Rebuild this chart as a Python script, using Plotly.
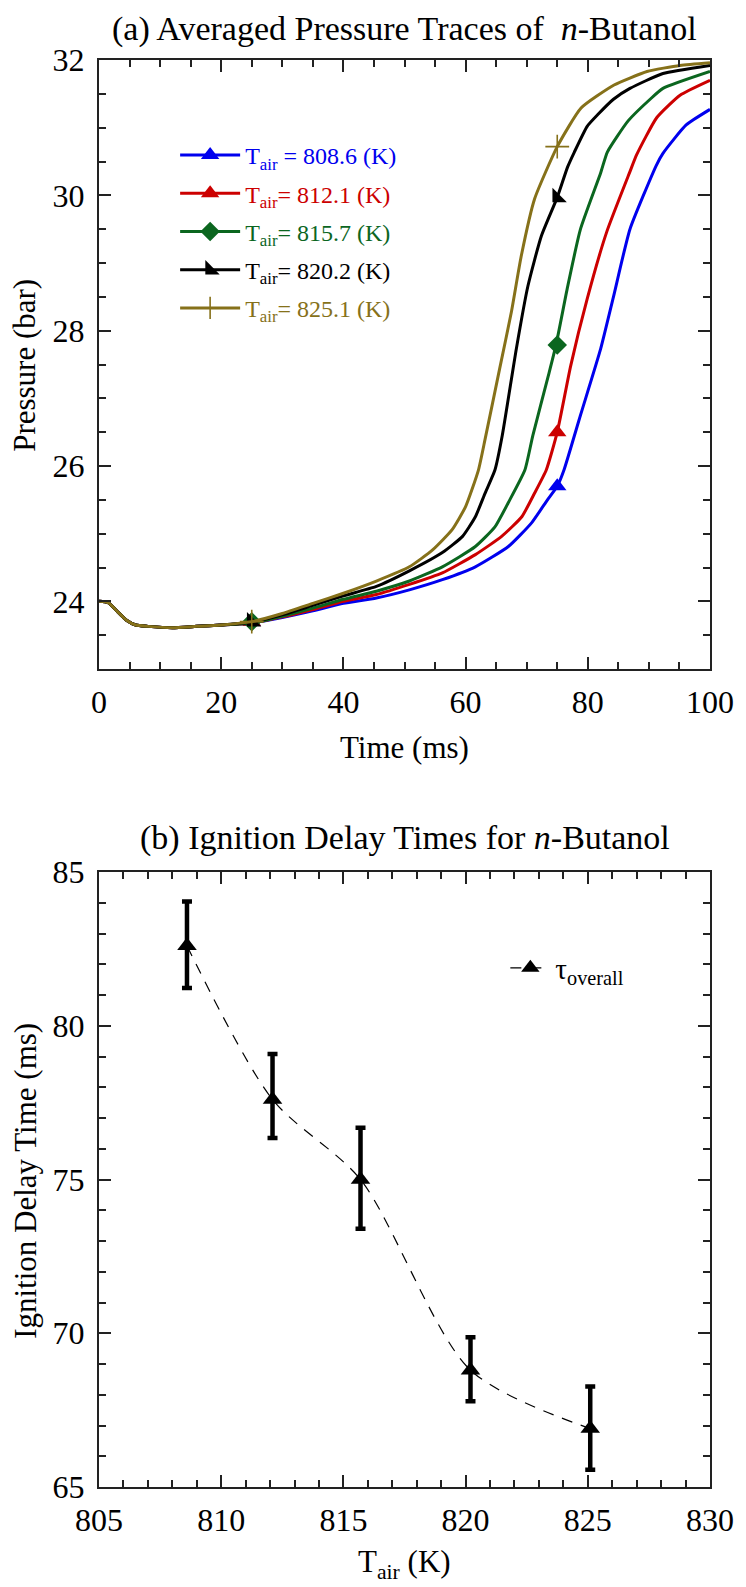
import plotly.graph_objects as go

# ---------------- data: (a) averaged pressure traces ----------------
t_blue = [0, 1.5, 3, 4.5, 6, 8, 12, 16, 20, 25, 30, 35, 40, 45.4, 50.8, 56.2, 61.6, 67.0, 70.8, 73.4, 75,
          76.1, 78.8, 82.1, 84.2, 86.9, 91.2, 92.3, 96.1, 100]
p_blue = [24.0, 23.98, 23.85, 23.72, 23.65, 23.63, 23.61, 23.63, 23.65, 23.68, 23.76, 23.86, 23.97, 24.05,
          24.17, 24.32, 24.51, 24.81, 25.16, 25.5, 25.7, 25.94, 26.75, 27.73, 28.5, 29.5, 30.44, 30.62,
          31.04, 31.27]

t_red = [0, 1.5, 3, 4.5, 6, 8, 12, 16, 20, 25, 30, 35, 40, 45.4, 50.8, 56.2, 61.6, 65.9, 69.2, 71.3, 73.2,
         75, 77.2, 79.9, 83.1, 86.9, 88.0, 91.3, 95.1, 100]
p_red = [24.0, 23.98, 23.85, 23.72, 23.65, 23.63, 23.61, 23.63, 23.65, 23.68, 23.77, 23.88, 24.0, 24.1,
         24.25, 24.42, 24.69, 24.96, 25.25, 25.6, 25.94, 26.5, 27.48, 28.47, 29.46, 30.35, 30.6, 31.15,
         31.48, 31.7]

t_green = [0, 1.5, 3, 4.5, 6, 8, 12, 16, 20, 25, 30, 35, 40, 45.4, 50.8, 56.2, 61.6, 64.8, 67.0, 69.7,
           71.0, 73.5, 74.8, 76.7, 78.8, 82.1, 83.2, 86.6, 90.2, 92.3, 100]
p_green = [24.0, 23.98, 23.85, 23.72, 23.65, 23.63, 23.61, 23.63, 23.65, 23.68, 23.78, 23.9, 24.03, 24.15,
           24.3, 24.51, 24.81, 25.1, 25.46, 25.94, 26.45, 27.32, 27.79, 28.65, 29.5, 30.33, 30.64, 31.1,
           31.42, 31.58, 31.83]

t_black = [0, 1.5, 3, 4.5, 6, 8, 12, 16, 20, 25, 30, 35, 40, 45.4, 50.8, 56.2, 59.5, 61.6, 63.2, 64.8,
           66.0, 68.3, 70.2, 72.4, 75, 76.7, 77.8, 79.9, 81.6, 84.2, 86.9, 92.3, 100]
p_black = [24.0, 23.98, 23.85, 23.72, 23.65, 23.63, 23.61, 23.63, 23.65, 23.69, 23.8, 23.94, 24.08, 24.22,
           24.45, 24.72, 24.96, 25.25, 25.6, 25.94, 26.45, 27.73, 28.66, 29.4, 29.97, 30.42, 30.64, 31.02,
           31.19, 31.42, 31.58, 31.8, 31.92]

t_gold = [0, 1.5, 3, 4.5, 6, 8, 12, 16, 20, 25, 30, 35, 40, 45.4, 50.8, 54.6, 57.8, 60, 62.1, 63.2, 65.6,
          67.5, 69.1, 71.3, 75, 78.9, 84.3, 89.7, 95.1, 100]
p_gold = [24.0, 23.98, 23.85, 23.72, 23.65, 23.63, 23.61, 23.63, 23.65, 23.7, 23.82, 23.97, 24.12, 24.3,
          24.51, 24.76, 25.06, 25.4, 25.94, 26.4, 27.45, 28.28, 29.1, 29.95, 30.72, 31.29, 31.63, 31.83,
          31.92, 31.96]

marker_t = [25, 75]
marker_p_blue = [23.7, 25.7]
marker_p_red = [23.7, 26.5]
marker_p_green = [23.7, 27.79]
marker_p_black = [23.7, 29.97]
marker_p_gold = [23.7, 30.72]

series_labels = ["T<sub>air</sub> = 808.6 (K)", "T<sub>air</sub>= 812.1 (K)", "T<sub>air</sub>= 815.7 (K)",
                 "T<sub>air</sub>= 820.2 (K)", "T<sub>air</sub>= 825.1 (K)"]

# ---------------- data: (b) ignition delay times ----------------
t_air = [808.6, 812.1, 815.7, 820.2, 825.1]
idt = [82.6, 77.6, 75.0, 68.8, 66.9]
idt_upper = [84.04, 79.08, 76.68, 69.87, 68.27]
idt_lower = [81.23, 76.35, 73.4, 67.79, 65.56]

# ---------------- styling ----------------
FONT = "Liberation Serif, Times New Roman, serif"
colors = ["#0000EE", "#CC0000", "#0B661F", "#000000", "#86711A"]
symbols = ["triangle-up", "triangle-up", "diamond", "triangle-sw", "cross-thin"]
msizes = [16, 16, 15, 16, 17]

# page body has an 8px margin: figure is sized so the plot sits where the reference has it
W, H = 738, 1579
PL, PR, PT, PB = 99, 717, 60, 1487          # plot-area edges in page pixels
PW, PH = PR - PL, PB - PT


def py(page_y):
    return (PB - page_y) / float(PH)


def px(page_x):
    return (page_x - PL) / float(PW)


fig = go.Figure()

curves = [(t_blue, p_blue, marker_p_blue), (t_red, p_red, marker_p_red), (t_green, p_green, marker_p_green),
          (t_black, p_black, marker_p_black), (t_gold, p_gold, marker_p_gold)]

for i, (tt, pp, mp) in enumerate(curves):
    c = colors[i]
    mk = dict(symbol=symbols[i], size=msizes[i], color=c, line=dict(color=c, width=1.6 if i == 4 else 0))
    fig.add_trace(go.Scatter(x=tt, y=pp, mode="lines", line=dict(color=c, width=3, shape="spline", smoothing=0.5),
                             showlegend=False, xaxis="x", yaxis="y", hoverinfo="skip"))
    fig.add_trace(go.Scatter(x=marker_t, y=mp, mode="markers", marker=mk, showlegend=False,
                             xaxis="x", yaxis="y"))
    fig.add_trace(go.Scatter(x=[None], y=[None], mode="lines+markers", marker=mk,
                             line=dict(color=c, width=3),
                             name="<span style='color:%s'>%s</span>" % (c, series_labels[i]),
                             legendgroup="g%d" % i, legend="legend", xaxis="x", yaxis="y"))

err_plus = [u - m for u, m in zip(idt_upper, idt)]
err_minus = [m - l for m, l in zip(idt, idt_lower)]
fig.add_trace(go.Scatter(
    x=t_air, y=idt, mode="lines+markers", xaxis="x2", yaxis="y2",
    line=dict(color="black", width=1.2, dash="11px,9px", shape="spline", smoothing=0.8),
    marker=dict(symbol="triangle-up", size=17, color="black"),
    error_y=dict(type="data", symmetric=False, array=err_plus, arrayminus=err_minus,
                 color="black", thickness=4.5, width=5),
    name="τ<sub>overall</sub>", legend="legend2"))

axis_common = dict(showline=True, linecolor="#222", linewidth=2, mirror="ticks", ticks="inside",
                   ticklen=12, tickwidth=1.5, tickcolor="#222", showgrid=False, zeroline=False,
                   tickfont=dict(family=FONT, size=32, color="black"))
minor_common = dict(ticklen=7, ticks="inside", tickwidth=1.5, tickcolor="#222")

fig.update_layout(
    width=W, height=H,
    margin=dict(l=PL - 8, r=(8 + W) - PR, t=PT - 8, b=(8 + H) - PB),
    plot_bgcolor="white", paper_bgcolor="white",
    font=dict(family=FONT, color="black"),
    xaxis=dict(domain=[0, 1], anchor="y", range=[0, 100], dtick=20, tick0=0,
               minor=dict(dtick=5, **minor_common), ticklabelstandoff=4, **axis_common),
    yaxis=dict(domain=[py(669), 1], anchor="x", range=[23, 32], dtick=2, tick0=24,
               minor=dict(dtick=0.5, tick0=23, **minor_common), ticklabelstandoff=6, **axis_common),
    xaxis2=dict(domain=[0, 1], anchor="y2", range=[805, 830], dtick=5, tick0=805,
                minor=dict(dtick=1, **minor_common), ticklabelstandoff=4, **axis_common),
    yaxis2=dict(domain=[0, py(872)], anchor="x2", range=[65, 85], dtick=5, tick0=65,
                minor=dict(dtick=1, **minor_common), ticklabelstandoff=6, **axis_common),
    legend=dict(x=px(176), y=py(133), xanchor="left", yanchor="top", bgcolor="rgba(0,0,0,0)",
                font=dict(family=FONT, size=24), itemwidth=60, tracegroupgap=4),
    legend2=dict(x=px(510), y=py(968), xanchor="left", yanchor="middle",
                 bgcolor="rgba(0,0,0,0)", font=dict(family=FONT, size=29), itemwidth=40),
    annotations=[
        dict(text="(a) Averaged Pressure Traces of \u00a0<i>n</i>-Butanol", x=0.5, y=py(29),
             xref="paper", yref="paper", showarrow=False, font=dict(family=FONT, size=34),
             xanchor="center", yanchor="middle"),
        dict(text="(b) Ignition Delay Times for <i>n</i>-Butanol", x=0.5, y=py(838),
             xref="paper", yref="paper", showarrow=False, font=dict(family=FONT, size=34),
             xanchor="center", yanchor="middle"),
        dict(text="Time (ms)", x=0.5, y=py(747), xref="paper", yref="paper",
             showarrow=False, font=dict(family=FONT, size=31), xanchor="center", yanchor="middle"),
        dict(text="T<sub>air</sub> (K)", x=0.5, y=py(1564), xref="paper", yref="paper",
             showarrow=False, font=dict(family=FONT, size=31), xanchor="center", yanchor="middle"),
        dict(text="Pressure (bar)", x=px(23), y=py(365), xref="paper",
             yref="paper", showarrow=False, textangle=-90, font=dict(family=FONT, size=31),
             xanchor="center", yanchor="middle"),
        dict(text="Ignition Delay Time (ms)", x=px(24), y=py(1181),
             xref="paper", yref="paper", showarrow=False, textangle=-90,
             font=dict(family=FONT, size=31), xanchor="center", yanchor="middle"),
    ],
)

fig.write_html("out.html")
